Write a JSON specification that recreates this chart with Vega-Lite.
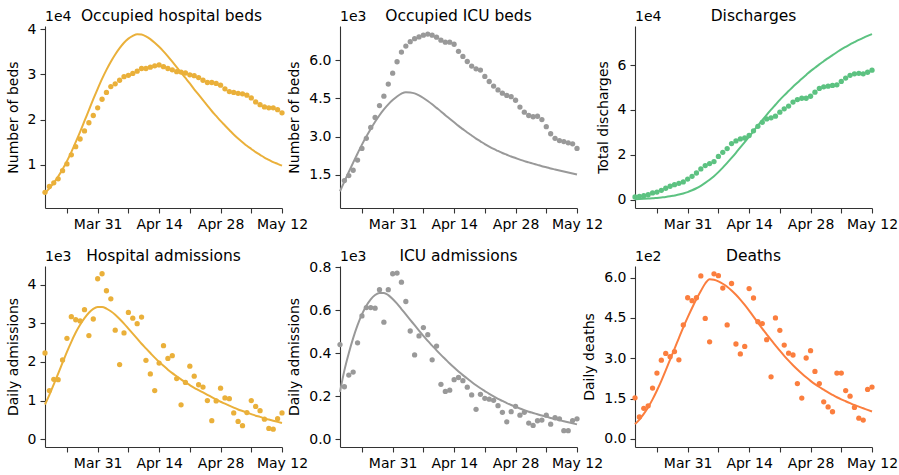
{
"$schema": "https://vega.github.io/schema/vega-lite/v6.json",
"padding": {"left": 6, "top": 8, "right": 5, "bottom": 2},
"background": "white",
"config": {
 "font": "DejaVu Sans",
 "view": {"stroke": null},
 "axis": {"grid": false, "labelFont": "DejaVu Sans", "labelFontSize": 14, "labelColor": "#000", "titleFont": "DejaVu Sans", "titleFontSize": 14, "titleFontWeight": "normal", "titleColor": "#000", "domainColor": "#333", "tickColor": "#333", "tickSize": 5, "labelPadding": 4, "domainWidth": 1.1, "tickWidth": 1.1, "labelFlush": false, "labelOverlap": false},
 "axisY": {"titlePadding": 7},
 "title": {"fontSize": 15.5, "fontWeight": "normal", "font": "DejaVu Sans", "color": "#000", "offset": -14, "anchor": "middle"},
 "text": {"font": "DejaVu Sans", "fontSize": 14, "color": "#000"}
},
"data": {"values": [
{"date":"2020-03-19","beds_obs":3900,"beds_model":3800,"icu_obs":null,"icu_model":840,"dis_obs":1200,"dis_model":200,"adm_obs":2230,"adm_model":900,"icuadm_obs":440,"icuadm_model":220,"deaths_obs":153,"deaths_model":55},
{"date":"2020-03-20","beds_obs":5200,"beds_model":4800,"icu_obs":1260,"icu_model":1220,"dis_obs":1500,"dis_model":300,"adm_obs":1260,"adm_model":1150,"icuadm_obs":244,"icuadm_model":320,"deaths_obs":82,"deaths_model":72},
{"date":"2020-03-21","beds_obs":6000,"beds_model":6000,"icu_obs":1460,"icu_model":1600,"dis_obs":1800,"dis_model":400,"adm_obs":1550,"adm_model":1420,"icuadm_obs":298,"icuadm_model":400,"deaths_obs":114,"deaths_model":93},
{"date":"2020-03-22","beds_obs":6900,"beds_model":7400,"icu_obs":1670,"icu_model":1970,"dis_obs":2200,"dis_model":500,"adm_obs":1540,"adm_model":1700,"icuadm_obs":312,"icuadm_model":470,"deaths_obs":123,"deaths_model":118},
{"date":"2020-03-23","beds_obs":8700,"beds_model":9000,"icu_obs":2070,"icu_model":2330,"dis_obs":3000,"dis_model":600,"adm_obs":2050,"adm_model":1980,"icuadm_obs":448,"icuadm_model":530,"deaths_obs":189,"deaths_model":147},
{"date":"2020-03-24","beds_obs":10200,"beds_model":10800,"icu_obs":2530,"icu_model":2680,"dis_obs":3400,"dis_model":800,"adm_obs":2610,"adm_model":2260,"icuadm_obs":573,"icuadm_model":580,"deaths_obs":245,"deaths_model":180},
{"date":"2020-03-25","beds_obs":12200,"beds_model":12800,"icu_obs":2930,"icu_model":3000,"dis_obs":4200,"dis_model":1000,"adm_obs":3170,"adm_model":2520,"icuadm_obs":612,"icuadm_model":620,"deaths_obs":293,"deaths_model":216},
{"date":"2020-03-26","beds_obs":14000,"beds_model":15000,"icu_obs":3360,"icu_model":3300,"dis_obs":5100,"dis_model":1200,"adm_obs":3090,"adm_model":2760,"icuadm_obs":612,"icuadm_model":650,"deaths_obs":318,"deaths_model":255},
{"date":"2020-03-27","beds_obs":15700,"beds_model":17300,"icu_obs":3750,"icu_model":3580,"dis_obs":6000,"dis_model":1500,"adm_obs":3060,"adm_model":2960,"icuadm_obs":609,"icuadm_model":670,"deaths_obs":306,"deaths_model":295},
{"date":"2020-03-28","beds_obs":17500,"beds_model":19700,"icu_obs":4220,"icu_model":3840,"dis_obs":6700,"dis_model":1900,"adm_obs":3350,"adm_model":3130,"icuadm_obs":695,"icuadm_model":680,"deaths_obs":325,"deaths_model":335},
{"date":"2020-03-29","beds_obs":19300,"beds_model":22100,"icu_obs":4590,"icu_model":4070,"dis_obs":7300,"dis_model":2300,"adm_obs":2680,"adm_model":3270,"icuadm_obs":544,"icuadm_model":680,"deaths_obs":294,"deaths_model":375},
{"date":"2020-03-30","beds_obs":20900,"beds_model":24500,"icu_obs":5070,"icu_model":4270,"dis_obs":7900,"dis_model":2800,"adm_obs":3110,"adm_model":3370,"icuadm_obs":695,"icuadm_model":670,"deaths_obs":424,"deaths_model":415},
{"date":"2020-03-31","beds_obs":22600,"beds_model":26800,"icu_obs":5500,"icu_model":4440,"dis_obs":9200,"dis_model":3400,"adm_obs":4150,"adm_model":3420,"icuadm_obs":769,"icuadm_model":652,"deaths_obs":525,"deaths_model":452},
{"date":"2020-04-01","beds_obs":24500,"beds_model":29000,"icu_obs":5950,"icu_model":4580,"dis_obs":10400,"dis_model":4200,"adm_obs":4280,"adm_model":3420,"icuadm_obs":772,"icuadm_model":630,"deaths_obs":514,"deaths_model":487},
{"date":"2020-04-02","beds_obs":26000,"beds_model":31000,"icu_obs":6330,"icu_model":4690,"dis_obs":11900,"dis_model":5100,"adm_obs":3840,"adm_model":3380,"icuadm_obs":730,"icuadm_model":605,"deaths_obs":525,"deaths_model":520},
{"date":"2020-04-03","beds_obs":27300,"beds_model":32800,"icu_obs":6570,"icu_model":4750,"dis_obs":13700,"dis_model":6200,"adm_obs":3630,"adm_model":3310,"icuadm_obs":640,"icuadm_model":580,"deaths_obs":606,"deaths_model":550},
{"date":"2020-04-04","beds_obs":27900,"beds_model":34400,"icu_obs":6740,"icu_model":4740,"dis_obs":15200,"dis_model":7500,"adm_obs":2820,"adm_model":3220,"icuadm_obs":503,"icuadm_model":555,"deaths_obs":448,"deaths_model":578},
{"date":"2020-04-05","beds_obs":28700,"beds_model":35800,"icu_obs":6860,"icu_model":4700,"dis_obs":16100,"dis_model":8900,"adm_obs":1930,"adm_model":3110,"icuadm_obs":392,"icuadm_model":530,"deaths_obs":361,"deaths_model":594},
{"date":"2020-04-06","beds_obs":29500,"beds_model":37000,"icu_obs":6930,"icu_model":4620,"dis_obs":17000,"dis_model":10500,"adm_obs":2750,"adm_model":2990,"icuadm_obs":480,"icuadm_model":505,"deaths_obs":614,"deaths_model":592},
{"date":"2020-04-07","beds_obs":29800,"beds_model":37900,"icu_obs":7000,"icu_model":4520,"dis_obs":19300,"dis_model":12300,"adm_obs":3280,"adm_model":2860,"icuadm_obs":519,"icuadm_model":480,"deaths_obs":607,"deaths_model":586},
{"date":"2020-04-08","beds_obs":30200,"beds_model":38500,"icu_obs":7040,"icu_model":4400,"dis_obs":21100,"dis_model":14300,"adm_obs":3130,"adm_model":2730,"icuadm_obs":486,"icuadm_model":457,"deaths_obs":561,"deaths_model":577},
{"date":"2020-04-09","beds_obs":30700,"beds_model":38900,"icu_obs":7000,"icu_model":4270,"dis_obs":22800,"dis_model":16400,"adm_obs":2990,"adm_model":2600,"icuadm_obs":369,"icuadm_model":435,"deaths_obs":424,"deaths_model":566},
{"date":"2020-04-10","beds_obs":31300,"beds_model":38800,"icu_obs":6920,"icu_model":4130,"dis_obs":25000,"dis_model":18600,"adm_obs":3160,"adm_model":2470,"icuadm_obs":433,"icuadm_model":413,"deaths_obs":578,"deaths_model":552},
{"date":"2020-04-11","beds_obs":31300,"beds_model":38400,"icu_obs":6800,"icu_model":3990,"dis_obs":26200,"dis_model":20900,"adm_obs":2040,"adm_model":2350,"icuadm_obs":255,"icuadm_model":392,"deaths_obs":353,"deaths_model":536},
{"date":"2020-04-12","beds_obs":31600,"beds_model":37800,"icu_obs":6720,"icu_model":3840,"dis_obs":27100,"dis_model":23300,"adm_obs":1690,"adm_model":2230,"icuadm_obs":222,"icuadm_model":372,"deaths_obs":316,"deaths_model":518},
{"date":"2020-04-13","beds_obs":31900,"beds_model":37000,"icu_obs":6720,"icu_model":3700,"dis_obs":27500,"dis_model":25700,"adm_obs":1260,"adm_model":2110,"icuadm_obs":228,"icuadm_model":352,"deaths_obs":344,"deaths_model":498},
{"date":"2020-04-14","beds_obs":32100,"beds_model":36100,"icu_obs":6640,"icu_model":3560,"dis_obs":28600,"dis_model":28100,"adm_obs":1970,"adm_model":2000,"icuadm_obs":277,"icuadm_model":333,"deaths_obs":559,"deaths_model":477},
{"date":"2020-04-15","beds_obs":31700,"beds_model":35100,"icu_obs":6360,"icu_model":3420,"dis_obs":30700,"dis_model":30600,"adm_obs":2420,"adm_model":1900,"icuadm_obs":287,"icuadm_model":315,"deaths_obs":524,"deaths_model":455},
{"date":"2020-04-16","beds_obs":31300,"beds_model":34000,"icu_obs":6160,"icu_model":3290,"dis_obs":32700,"dis_model":33000,"adm_obs":2090,"adm_model":1800,"icuadm_obs":272,"icuadm_model":298,"deaths_obs":436,"deaths_model":432},
{"date":"2020-04-17","beds_obs":31000,"beds_model":32800,"icu_obs":5960,"icu_model":3160,"dis_obs":34500,"dis_model":35400,"adm_obs":2160,"adm_model":1710,"icuadm_obs":242,"icuadm_model":282,"deaths_obs":429,"deaths_model":410},
{"date":"2020-04-18","beds_obs":30600,"beds_model":31600,"icu_obs":5780,"icu_model":3040,"dis_obs":36000,"dis_model":37800,"adm_obs":1570,"adm_model":1630,"icuadm_obs":206,"icuadm_model":266,"deaths_obs":369,"deaths_model":389},
{"date":"2020-04-19","beds_obs":30500,"beds_model":30400,"icu_obs":5670,"icu_model":2920,"dis_obs":36500,"dis_model":40100,"adm_obs":890,"adm_model":1550,"icuadm_obs":139,"icuadm_model":251,"deaths_obs":231,"deaths_model":368},
{"date":"2020-04-20","beds_obs":30300,"beds_model":29200,"icu_obs":5620,"icu_model":2810,"dis_obs":37200,"dis_model":42300,"adm_obs":1470,"adm_model":1470,"icuadm_obs":209,"icuadm_model":237,"deaths_obs":450,"deaths_model":348},
{"date":"2020-04-21","beds_obs":29900,"beds_model":28000,"icu_obs":5370,"icu_model":2700,"dis_obs":39000,"dis_model":44500,"adm_obs":1890,"adm_model":1400,"icuadm_obs":190,"icuadm_model":224,"deaths_obs":404,"deaths_model":328},
{"date":"2020-04-22","beds_obs":29700,"beds_model":26700,"icu_obs":5170,"icu_model":2600,"dis_obs":40500,"dis_model":46500,"adm_obs":1630,"adm_model":1330,"icuadm_obs":186,"icuadm_model":211,"deaths_obs":349,"deaths_model":309},
{"date":"2020-04-23","beds_obs":29300,"beds_model":25500,"icu_obs":4990,"icu_model":2510,"dis_obs":41700,"dis_model":48400,"adm_obs":1410,"adm_model":1270,"icuadm_obs":181,"icuadm_model":199,"deaths_obs":319,"deaths_model":291},
{"date":"2020-04-24","beds_obs":28700,"beds_model":24300,"icu_obs":4840,"icu_model":2430,"dis_obs":43500,"dis_model":50300,"adm_obs":1350,"adm_model":1210,"icuadm_obs":156,"icuadm_model":188,"deaths_obs":312,"deaths_model":274},
{"date":"2020-04-25","beds_obs":28200,"beds_model":23100,"icu_obs":4710,"icu_model":2350,"dis_obs":44600,"dis_model":52100,"adm_obs":1000,"adm_model":1150,"icuadm_obs":125,"icuadm_model":178,"deaths_obs":206,"deaths_model":258},
{"date":"2020-04-26","beds_obs":28200,"beds_model":21900,"icu_obs":4620,"icu_model":2280,"dis_obs":45200,"dis_model":53900,"adm_obs":480,"adm_model":1090,"icuadm_obs":81,"icuadm_model":168,"deaths_obs":152,"deaths_model":243},
{"date":"2020-04-27","beds_obs":28000,"beds_model":20800,"icu_obs":4570,"icu_model":2210,"dis_obs":45200,"dis_model":55600,"adm_obs":990,"adm_model":1030,"icuadm_obs":128,"icuadm_model":159,"deaths_obs":301,"deaths_model":229},
{"date":"2020-04-28","beds_obs":27600,"beds_model":19700,"icu_obs":4430,"icu_model":2150,"dis_obs":46100,"dis_model":57300,"adm_obs":1320,"adm_model":970,"icuadm_obs":153,"icuadm_model":151,"deaths_obs":328,"deaths_model":216},
{"date":"2020-04-29","beds_obs":26800,"beds_model":18700,"icu_obs":4160,"icu_model":2090,"dis_obs":47900,"dis_model":58800,"adm_obs":1070,"adm_model":920,"icuadm_obs":112,"icuadm_model":143,"deaths_obs":251,"deaths_model":204},
{"date":"2020-04-30","beds_obs":26200,"beds_model":17700,"icu_obs":3960,"icu_model":2030,"dis_obs":49600,"dis_model":60300,"adm_obs":1050,"adm_model":870,"icuadm_obs":125,"icuadm_model":135,"deaths_obs":206,"deaths_model":193},
{"date":"2020-05-01","beds_obs":26000,"beds_model":16700,"icu_obs":3830,"icu_model":1980,"dis_obs":50300,"dis_model":61700,"adm_obs":680,"adm_model":820,"icuadm_obs":75,"icuadm_model":128,"deaths_obs":138,"deaths_model":183},
{"date":"2020-05-02","beds_obs":25800,"beds_model":15800,"icu_obs":3780,"icu_model":1930,"dis_obs":50600,"dis_model":63100,"adm_obs":460,"adm_model":770,"icuadm_obs":64,"icuadm_model":122,"deaths_obs":119,"deaths_model":173},
{"date":"2020-05-03","beds_obs":25700,"beds_model":15000,"icu_obs":3800,"icu_model":1880,"dis_obs":50900,"dis_model":64400,"adm_obs":350,"adm_model":730,"icuadm_obs":86,"icuadm_model":116,"deaths_obs":101,"deaths_model":164},
{"date":"2020-05-04","beds_obs":25400,"beds_model":14200,"icu_obs":3670,"icu_model":1830,"dis_obs":51200,"dis_model":65700,"adm_obs":690,"adm_model":690,"icuadm_obs":89,"icuadm_model":110,"deaths_obs":245,"deaths_model":155},
{"date":"2020-05-05","beds_obs":24800,"beds_model":13500,"icu_obs":3390,"icu_model":1790,"dis_obs":52700,"dis_model":67000,"adm_obs":1000,"adm_model":650,"icuadm_obs":112,"icuadm_model":105,"deaths_obs":245,"deaths_model":147},
{"date":"2020-05-06","beds_obs":23900,"beds_model":12800,"icu_obs":3110,"icu_model":1740,"dis_obs":54200,"dis_model":68100,"adm_obs":850,"adm_model":610,"icuadm_obs":70,"icuadm_model":99,"deaths_obs":180,"deaths_model":140},
{"date":"2020-05-07","beds_obs":23300,"beds_model":12200,"icu_obs":2930,"icu_model":1700,"dis_obs":55400,"dis_model":69200,"adm_obs":740,"adm_model":580,"icuadm_obs":100,"icuadm_model":94,"deaths_obs":159,"deaths_model":133},
{"date":"2020-05-08","beds_obs":22800,"beds_model":11600,"icu_obs":2840,"icu_model":1660,"dis_obs":56100,"dis_model":70200,"adm_obs":520,"adm_model":540,"icuadm_obs":95,"icuadm_model":89,"deaths_obs":117,"deaths_model":126},
{"date":"2020-05-09","beds_obs":22600,"beds_model":11100,"icu_obs":2800,"icu_model":1620,"dis_obs":56300,"dis_model":71200,"adm_obs":280,"adm_model":510,"icuadm_obs":40,"icuadm_model":84,"deaths_obs":77,"deaths_model":120},
{"date":"2020-05-10","beds_obs":22600,"beds_model":10600,"icu_obs":2750,"icu_model":1580,"dis_obs":56100,"dis_model":72100,"adm_obs":260,"adm_model":480,"icuadm_obs":40,"icuadm_model":79,"deaths_obs":70,"deaths_model":114},
{"date":"2020-05-11","beds_obs":22200,"beds_model":10200,"icu_obs":2710,"icu_model":1540,"dis_obs":56800,"dis_model":73000,"adm_obs":530,"adm_model":450,"icuadm_obs":87,"icuadm_model":74,"deaths_obs":184,"deaths_model":108},
{"date":"2020-05-12","beds_obs":21500,"beds_model":9800,"icu_obs":2530,"icu_model":1500,"dis_obs":57700,"dis_model":73800,"adm_obs":680,"adm_model":420,"icuadm_obs":95,"icuadm_model":69,"deaths_obs":193,"deaths_model":102}
]},
"columns": 3,
"spacing": {"row": 58, "column": 58},
"bounds": "flush",
"concat": [
 {"title": {"text": "Occupied hospital beds", "dx": 8}, "width": 237, "height": 182,
  "encoding": {"x": {"field": "date", "type": "temporal", "scale": {"type": "utc", "domain": [{"year": 2020, "month": "mar", "date": 19, "utc": true}, {"year": 2020, "month": "may", "date": 12, "utc": true}]}, "axis": {"title": null, "values": [{"year": 2020, "month": "mar", "date": 24, "utc": true}, {"year": 2020, "month": "mar", "date": 31, "utc": true}, {"year": 2020, "month": "apr", "date": 7, "utc": true}, {"year": 2020, "month": "apr", "date": 14, "utc": true}, {"year": 2020, "month": "apr", "date": 21, "utc": true}, {"year": 2020, "month": "apr", "date": 28, "utc": true}, {"year": 2020, "month": "may", "date": 5, "utc": true}, {"year": 2020, "month": "may", "date": 12, "utc": true}], "labelExpr": "(utcdate(datum.value)==31 || utcdate(datum.value)==14 || utcdate(datum.value)==28 || utcdate(datum.value)==12) ? utcFormat(datum.value, '%b %d') : ''"}}},
  "layer": [
   {"mark": {"type": "line", "color": "#EAB03A", "strokeWidth": 2, "interpolate": "monotone"}, "encoding": {"y": {"field": "beds_model", "type": "quantitative", "title": "Number of beds", "scale": {"domain": [440, 40700], "nice": false, "zero": false}, "axis": {"values": [10000, 20000, 30000, 40000], "labelExpr": "format(datum.value/1e4, 'd')"}}}},
   {"mark": {"type": "circle", "color": "#EAB03A", "size": 28, "opacity": 1}, "encoding": {"y": {"field": "beds_obs", "type": "quantitative", "title": "Number of beds"}}},
   {"transform": [{"window": [{"op": "row_number", "as": "rn"}]}, {"filter": "datum.rn == 1"}], "mark": {"type": "text", "align": "left", "baseline": "alphabetic", "dy": -5}, "encoding": {"y": {"datum": 40700, "type": "quantitative"}, "text": {"value": "1e4"}}}
  ]},
 {"title": "Occupied ICU beds", "width": 237, "height": 182,
  "encoding": {"x": {"field": "date", "type": "temporal", "scale": {"type": "utc", "domain": [{"year": 2020, "month": "mar", "date": 19, "utc": true}, {"year": 2020, "month": "may", "date": 12, "utc": true}]}, "axis": {"title": null, "values": [{"year": 2020, "month": "mar", "date": 24, "utc": true}, {"year": 2020, "month": "mar", "date": 31, "utc": true}, {"year": 2020, "month": "apr", "date": 7, "utc": true}, {"year": 2020, "month": "apr", "date": 14, "utc": true}, {"year": 2020, "month": "apr", "date": 21, "utc": true}, {"year": 2020, "month": "apr", "date": 28, "utc": true}, {"year": 2020, "month": "may", "date": 5, "utc": true}, {"year": 2020, "month": "may", "date": 12, "utc": true}], "labelExpr": "(utcdate(datum.value)==31 || utcdate(datum.value)==14 || utcdate(datum.value)==28 || utcdate(datum.value)==12) ? utcFormat(datum.value, '%b %d') : ''"}}},
  "layer": [
   {"mark": {"type": "line", "color": "#999999", "strokeWidth": 2, "interpolate": "monotone"}, "encoding": {"y": {"field": "icu_model", "type": "quantitative", "title": "Number of beds", "scale": {"domain": [180, 7360], "nice": false, "zero": false}, "axis": {"values": [1500, 3000, 4500, 6000], "labelExpr": "format(datum.value/1e3, '.1f')"}}}},
   {"mark": {"type": "circle", "color": "#999999", "size": 28, "opacity": 1}, "encoding": {"y": {"field": "icu_obs", "type": "quantitative", "title": "Number of beds"}}},
   {"transform": [{"window": [{"op": "row_number", "as": "rn"}]}, {"filter": "datum.rn == 1"}], "mark": {"type": "text", "align": "left", "baseline": "alphabetic", "dy": -5}, "encoding": {"y": {"datum": 7360, "type": "quantitative"}, "text": {"value": "1e3"}}}
  ]},
 {"title": "Discharges", "width": 237, "height": 182,
  "encoding": {"x": {"field": "date", "type": "temporal", "scale": {"type": "utc", "domain": [{"year": 2020, "month": "mar", "date": 19, "utc": true}, {"year": 2020, "month": "may", "date": 12, "utc": true}]}, "axis": {"title": null, "values": [{"year": 2020, "month": "mar", "date": 24, "utc": true}, {"year": 2020, "month": "mar", "date": 31, "utc": true}, {"year": 2020, "month": "apr", "date": 7, "utc": true}, {"year": 2020, "month": "apr", "date": 14, "utc": true}, {"year": 2020, "month": "apr", "date": 21, "utc": true}, {"year": 2020, "month": "apr", "date": 28, "utc": true}, {"year": 2020, "month": "may", "date": 5, "utc": true}, {"year": 2020, "month": "may", "date": 12, "utc": true}], "labelExpr": "(utcdate(datum.value)==31 || utcdate(datum.value)==14 || utcdate(datum.value)==28 || utcdate(datum.value)==12) ? utcFormat(datum.value, '%b %d') : ''"}}},
  "layer": [
   {"mark": {"type": "line", "color": "#5CC281", "strokeWidth": 2, "interpolate": "monotone"}, "encoding": {"y": {"field": "dis_model", "type": "quantitative", "title": "Total discharges", "scale": {"domain": [-3700, 77400], "nice": false, "zero": false}, "axis": {"values": [0, 20000, 40000, 60000], "labelExpr": "format(datum.value/1e4, 'd')"}}}},
   {"mark": {"type": "circle", "color": "#5CC281", "size": 28, "opacity": 1}, "encoding": {"y": {"field": "dis_obs", "type": "quantitative", "title": "Total discharges"}}},
   {"transform": [{"window": [{"op": "row_number", "as": "rn"}]}, {"filter": "datum.rn == 1"}], "mark": {"type": "text", "align": "left", "baseline": "alphabetic", "dy": -5}, "encoding": {"y": {"datum": 77400, "type": "quantitative"}, "text": {"value": "1e4"}}}
  ]},
 {"title": "Hospital admissions", "width": 237, "height": 181,
  "encoding": {"x": {"field": "date", "type": "temporal", "scale": {"type": "utc", "domain": [{"year": 2020, "month": "mar", "date": 19, "utc": true}, {"year": 2020, "month": "may", "date": 12, "utc": true}]}, "axis": {"title": null, "values": [{"year": 2020, "month": "mar", "date": 24, "utc": true}, {"year": 2020, "month": "mar", "date": 31, "utc": true}, {"year": 2020, "month": "apr", "date": 7, "utc": true}, {"year": 2020, "month": "apr", "date": 14, "utc": true}, {"year": 2020, "month": "apr", "date": 21, "utc": true}, {"year": 2020, "month": "apr", "date": 28, "utc": true}, {"year": 2020, "month": "may", "date": 5, "utc": true}, {"year": 2020, "month": "may", "date": 12, "utc": true}], "labelExpr": "(utcdate(datum.value)==31 || utcdate(datum.value)==14 || utcdate(datum.value)==28 || utcdate(datum.value)==12) ? utcFormat(datum.value, '%b %d') : ''"}}},
  "layer": [
   {"mark": {"type": "line", "color": "#EAB03A", "strokeWidth": 2, "interpolate": "monotone"}, "encoding": {"y": {"field": "adm_model", "type": "quantitative", "title": "Daily admissions", "scale": {"domain": [-200, 4480], "nice": false, "zero": false}, "axis": {"values": [0, 1000, 2000, 3000, 4000], "labelExpr": "format(datum.value/1e3, 'd')"}}}},
   {"mark": {"type": "circle", "color": "#EAB03A", "size": 28, "opacity": 1}, "encoding": {"y": {"field": "adm_obs", "type": "quantitative", "title": "Daily admissions"}}},
   {"transform": [{"window": [{"op": "row_number", "as": "rn"}]}, {"filter": "datum.rn == 1"}], "mark": {"type": "text", "align": "left", "baseline": "alphabetic", "dy": -5}, "encoding": {"y": {"datum": 4480, "type": "quantitative"}, "text": {"value": "1e3"}}}
  ]},
 {"title": "ICU admissions", "width": 237, "height": 181,
  "encoding": {"x": {"field": "date", "type": "temporal", "scale": {"type": "utc", "domain": [{"year": 2020, "month": "mar", "date": 19, "utc": true}, {"year": 2020, "month": "may", "date": 12, "utc": true}]}, "axis": {"title": null, "values": [{"year": 2020, "month": "mar", "date": 24, "utc": true}, {"year": 2020, "month": "mar", "date": 31, "utc": true}, {"year": 2020, "month": "apr", "date": 7, "utc": true}, {"year": 2020, "month": "apr", "date": 14, "utc": true}, {"year": 2020, "month": "apr", "date": 21, "utc": true}, {"year": 2020, "month": "apr", "date": 28, "utc": true}, {"year": 2020, "month": "may", "date": 5, "utc": true}, {"year": 2020, "month": "may", "date": 12, "utc": true}], "labelExpr": "(utcdate(datum.value)==31 || utcdate(datum.value)==14 || utcdate(datum.value)==28 || utcdate(datum.value)==12) ? utcFormat(datum.value, '%b %d') : ''"}}},
  "layer": [
   {"mark": {"type": "line", "color": "#999999", "strokeWidth": 2, "interpolate": "monotone"}, "encoding": {"y": {"field": "icuadm_model", "type": "quantitative", "title": "Daily admissions", "scale": {"domain": [-36, 805], "nice": false, "zero": false}, "axis": {"values": [0, 200, 400, 600, 800], "labelExpr": "format(datum.value/1e3, '.1f')"}}}},
   {"mark": {"type": "circle", "color": "#999999", "size": 28, "opacity": 1}, "encoding": {"y": {"field": "icuadm_obs", "type": "quantitative", "title": "Daily admissions"}}},
   {"transform": [{"window": [{"op": "row_number", "as": "rn"}]}, {"filter": "datum.rn == 1"}], "mark": {"type": "text", "align": "left", "baseline": "alphabetic", "dy": -5}, "encoding": {"y": {"datum": 805, "type": "quantitative"}, "text": {"value": "1e3"}}}
  ]},
 {"title": "Deaths", "width": 237, "height": 181,
  "encoding": {"x": {"field": "date", "type": "temporal", "scale": {"type": "utc", "domain": [{"year": 2020, "month": "mar", "date": 19, "utc": true}, {"year": 2020, "month": "may", "date": 12, "utc": true}]}, "axis": {"title": null, "values": [{"year": 2020, "month": "mar", "date": 24, "utc": true}, {"year": 2020, "month": "mar", "date": 31, "utc": true}, {"year": 2020, "month": "apr", "date": 7, "utc": true}, {"year": 2020, "month": "apr", "date": 14, "utc": true}, {"year": 2020, "month": "apr", "date": 21, "utc": true}, {"year": 2020, "month": "apr", "date": 28, "utc": true}, {"year": 2020, "month": "may", "date": 5, "utc": true}, {"year": 2020, "month": "may", "date": 12, "utc": true}], "labelExpr": "(utcdate(datum.value)==31 || utcdate(datum.value)==14 || utcdate(datum.value)==28 || utcdate(datum.value)==12) ? utcFormat(datum.value, '%b %d') : ''"}}},
  "layer": [
   {"mark": {"type": "line", "color": "#FB7E3E", "strokeWidth": 2, "interpolate": "monotone"}, "encoding": {"y": {"field": "deaths_model", "type": "quantitative", "title": "Daily deaths", "scale": {"domain": [-30, 643], "nice": false, "zero": false}, "axis": {"values": [0, 150, 300, 450, 600], "labelExpr": "format(datum.value/1e2, '.1f')"}}}},
   {"mark": {"type": "circle", "color": "#FB7E3E", "size": 28, "opacity": 1}, "encoding": {"y": {"field": "deaths_obs", "type": "quantitative", "title": "Daily deaths"}}},
   {"transform": [{"window": [{"op": "row_number", "as": "rn"}]}, {"filter": "datum.rn == 1"}], "mark": {"type": "text", "align": "left", "baseline": "alphabetic", "dy": -5}, "encoding": {"y": {"datum": 643, "type": "quantitative"}, "text": {"value": "1e2"}}}
  ]}
]
}
